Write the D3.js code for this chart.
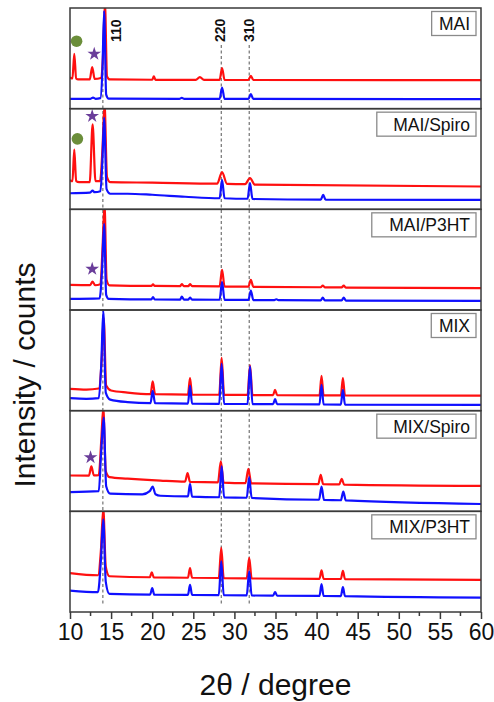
<!DOCTYPE html>
<html>
<head>
<meta charset="utf-8">
<script src="https://cdn.jsdelivr.net/npm/d3@7"></script>
<style>
  html, body { margin: 0; padding: 0; background: #fff; }
  svg { display: block; font-family: Arial, "Liberation Sans", sans-serif; }
</style>
</head>
<body>
<svg id="chart" width="494" height="702"></svg>
<script>
// ---------- data ----------
const xTicks = [10, 15, 20, 25, 30, 35, 40, 45, 50, 55, 60];
const panelNames = ["MAI", "MAI/Spiro", "MAI/P3HT", "MIX", "MIX/Spiro", "MIX/P3HT"];
const refPeaks = [14.0, 28.4, 31.8];
const refLabels = ["110", "220", "310"];

// [2θ, intensity (a.u., panel-relative)]
const redMAI = [[10,31],[10.3,30],[10.52,54.4],[10.75,30],[11,29],[12.4,29],[12.7,41.4],[13.0,29.5],[13.75,30.5],[14.0,50],[14.25,105],[14.5,32],[14.85,29],[20.0,28.7],[20.2,32],[20.4,28.7],[25.3,28.7],[25.8,31.4],[26.3,28.6],[28.2,28.6],[28.5,40.4],[28.8,28.6],[31.7,28.5],[32.0,32.7],[32.3,28.5],[60,28.4]];
const blueMAI = [[10,9.7],[12.5,9.8],[12.8,11],[13.1,9.8],[13.7,10.5],[13.95,40],[14.15,97],[14.4,14],[14.7,10],[23.3,9.7],[23.6,10.7],[23.9,9.7],[28.2,9.7],[28.5,21],[28.8,9.7],[31.7,9.7],[32.0,14.4],[32.3,9.7],[60,9.5]];

const redMAISpiro = [[10,29],[10.3,28],[10.52,59.3],[10.75,28],[11.1,27],[12.4,27],[12.75,84.3],[13.1,28],[13.65,28],[13.95,60],[14.2,105],[14.5,32],[14.9,27],[20,26.5],[27.9,25.5],[28.5,37],[29.1,25.3],[31.3,25],[31.9,31],[32.5,24.5],[60,22.7]];
const blueMAISpiro = [[10,16],[12.4,16.5],[12.75,18.6],[13.0,17],[13.7,18],[13.95,50],[14.15,91],[14.45,20],[14.9,15.5],[17,15.5],[20,14.5],[24,12.5],[28.2,11],[28.5,29.3],[28.8,11],[31.6,10.5],[31.9,26],[32.2,10.3],[40.5,9.6],[40.8,14.3],[41.1,9.6],[60,9.3]];

const redMAIP3HT = [[10,25],[12.45,24.8],[12.75,28.3],[13.05,24.6],[13.7,25.5],[13.95,60],[14.2,105],[14.45,30],[14.8,24.5],[19.9,24],[20.1,25.5],[20.3,24],[23.4,23.8],[23.6,25.7],[23.85,23.8],[24.4,23.8],[24.6,25.7],[24.85,23.7],[28.2,23.5],[28.5,40],[28.8,23.3],[31.7,23.2],[32.0,30],[32.3,23],[40.5,22.6],[40.75,24.3],[41.0,22.5],[43.05,22.4],[43.3,24.3],[43.55,22.3],[60,21.7]];
const blueMAIP3HT = [[10,11],[13.6,11.5],[13.9,40],[14.15,85.7],[14.4,15],[14.7,11],[19.9,10.5],[20.1,12.7],[20.3,10.5],[23.4,10.4],[23.6,13.3],[23.85,10.4],[24.4,10.4],[24.6,12.3],[24.85,10.3],[28.2,10.2],[28.5,27.7],[28.8,10.1],[31.7,10],[32.0,19.3],[32.3,9.9],[34.85,9.8],[35.1,10.7],[35.35,9.8],[40.5,9.6],[40.75,12.3],[41.0,9.5],[43.05,9.5],[43.3,12.3],[43.55,9.4],[60,9]];

const redMIX = [[10,21.7],[12,21],[13.5,22],[13.85,50],[14.1,92],[14.4,25],[15,20],[17,18],[19.8,16.5],[20.06,29],[20.35,16.4],[24.35,16],[24.6,32.4],[24.85,16],[28.15,15.8],[28.45,52.4],[28.75,15.7],[31.6,15.6],[31.9,45],[32.2,15.5],[34.7,15.4],[34.95,20.7],[35.2,15.3],[40.35,15.2],[40.6,34.7],[40.85,15.2],[42.95,15.1],[43.2,32.4],[43.45,15.1],[60,15]];
const blueMIX = [[10,12.4],[12,11.8],[13.5,12.5],[13.8,45],[14.05,99],[14.35,18],[14.9,11],[17,8.5],[19.8,7.5],[20.06,19.7],[20.35,7.4],[24.35,7],[24.6,24.7],[24.85,7],[28.15,6.8],[28.45,46.4],[28.75,6.7],[31.6,6.6],[31.9,44],[32.2,6.5],[34.7,6.4],[34.95,11.4],[35.2,6.4],[40.35,6.2],[40.6,25.7],[40.85,6.2],[42.95,6.1],[43.2,20.7],[43.45,6.1],[60,5.7]];

const redMIXSpiro = [[10,35.6],[12.3,35.5],[12.6,44.6],[12.9,35.8],[13.5,36],[13.8,70],[14.05,103],[14.35,40],[14.8,34],[17,32.5],[21,30.5],[24.0,29.5],[24.3,38],[24.6,29.2],[28.0,28.8],[28.35,49.6],[28.7,28.5],[31.35,28],[31.7,42.3],[32.05,27.8],[40.2,27],[40.5,36.3],[40.8,26.9],[42.75,26.7],[43.05,32.3],[43.35,26.6],[60,25.3]];
const blueMIXSpiro = [[10,19],[13.5,20],[13.8,60],[14.1,93],[14.4,25],[14.9,17.5],[18.8,16.8],[19.7,20],[20.06,24.6],[20.4,17],[21,15.5],[24.35,14.8],[24.6,27.3],[24.85,14.6],[28.15,14],[28.45,44.6],[28.75,13.8],[31.5,13.5],[31.8,34],[32.1,13.3],[40.3,11.5],[40.6,24.6],[40.9,11.3],[42.95,11],[43.25,19.6],[43.55,10.8],[60,7.3]];

const redMIXP3HT = [[10,38.7],[13.4,36.5],[13.75,60],[14.05,103],[14.35,45],[14.8,35.5],[19.7,34.5],[19.95,39.3],[20.2,34.3],[24.35,34],[24.6,43.7],[24.85,34],[28.1,33.8],[28.4,63.7],[28.7,33.6],[31.5,33.4],[31.8,53.7],[32.1,33.3],[40.35,33],[40.6,41.3],[40.85,33],[42.95,32.8],[43.2,41],[43.45,32.7],[60,32]];
const blueMIXP3HT = [[10,21.3],[13.4,19.8],[13.75,50],[14.05,92],[14.35,30],[14.8,18],[19.75,17.3],[20.0,23.7],[20.25,17.2],[24.35,17],[24.6,27],[24.85,17],[28.1,16.8],[28.4,50.3],[28.7,16.7],[31.5,16.5],[31.8,40.3],[32.1,16.4],[34.7,16.2],[34.95,19.7],[35.2,16.2],[40.35,16],[40.6,27.7],[40.85,15.9],[42.95,15.8],[43.2,24.7],[43.45,15.7],[60,14.3]];

const redSeries = [redMAI, redMAISpiro, redMAIP3HT, redMIX, redMIXSpiro, redMIXP3HT];
const blueSeries = [blueMAI, blueMAISpiro, blueMAIP3HT, blueMIX, blueMIXSpiro, blueMIXP3HT];

// impurity markers: panel index, 2θ, intensity
const circleMarks = [[0, 10.8, 67], [1, 10.9, 70]];
const starMarks = [[0, 12.95, 54.4], [1, 12.7, 92.6], [2, 12.7, 40.7], [4, 12.5, 53.6]];

// ---------- layout ----------
const mLeft = 70, mRight = 481, mTop = 8, mBottom = 612;
const nP = panelNames.length;
const pH = (mBottom - mTop) / nP;

const svg = d3.select("#chart");
const x = d3.scaleLinear().domain([10, 60]).range([mLeft, mRight]);
const yPanel = i => d3.scaleLinear().domain([0, 100]).range([mTop + (i + 1) * pH, mTop + i * pH]);

const defs = svg.append("defs");

// dashed reference lines
const refG = svg.append("g");
refPeaks.forEach(p => {
  refG.append("line")
    .attr("x1", x(p)).attr("x2", x(p))
    .attr("y1", 45).attr("y2", 606)
    .attr("stroke", "#555").attr("stroke-width", 1)
    .attr("stroke-dasharray", "3,2.5");
});

// traces
for (let i = 0; i < nP; i++) {
  const y = yPanel(i);
  const clipId = "pc" + i;
  defs.append("clipPath").attr("id", clipId)
    .append("rect").attr("x", mLeft).attr("y", mTop + i * pH).attr("width", mRight - mLeft).attr("height", pH);
  const pg = svg.append("g").attr("clip-path", `url(#${clipId})`);
  const line = d3.line().x(d => x(d[0])).y(d => y(d[1])).curve(d3.curveMonotoneX);
  pg.append("path").datum(redSeries[i]).attr("d", line)
    .attr("fill", "none").attr("stroke", "#ff1010").attr("stroke-width", 2.2).attr("stroke-linejoin", "round");
  pg.append("path").datum(blueSeries[i]).attr("d", line)
    .attr("fill", "none").attr("stroke", "#1010ff").attr("stroke-width", 2.2).attr("stroke-linejoin", "round");
}

// markers
circleMarks.forEach(([pi, cx, cy]) => {
  svg.append("circle").attr("cx", x(cx)).attr("cy", yPanel(pi)(cy)).attr("r", 5.8).attr("fill", "#6b8e3a");
});
starMarks.forEach(([pi, sx, sy]) => {
  svg.append("path").attr("d", d3.symbol(d3.symbolStar, 58)())
    .attr("transform", `translate(${x(sx)},${yPanel(pi)(sy)})`)
    .attr("fill", "#6a3d9a");
});

// panel frames and labels
for (let i = 0; i < nP; i++) {
  const py = mTop + i * pH;
  svg.append("rect").attr("x", mLeft).attr("y", py).attr("width", mRight - mLeft).attr("height", pH)
    .attr("fill", "none").attr("stroke", "#3a3a3a").attr("stroke-width", 1.5);
  const lg = svg.append("g");
  const t = lg.append("text").attr("x", 470).attr("y", py + 22)
    .attr("text-anchor", "end").attr("font-size", 17.5).attr("fill", "#111").text(panelNames[i]);
  const bb = t.node().getBBox();
  const bw = bb.width * 1.2 + 7;
  lg.insert("rect", "text").attr("x", 476 - bw).attr("y", py + 3.5).attr("width", bw).attr("height", 24)
    .attr("fill", "#fff").attr("stroke", "#8a8a8a").attr("stroke-width", 1.3);
}

// peak index labels
const labelOffsets = [18, 4, 4.7];
refPeaks.forEach((p, k) => {
  svg.append("text")
    .attr("transform", `translate(${x(p) + labelOffsets[k]},42) rotate(-90)`)
    .attr("font-size", 14).attr("font-weight", "bold").attr("fill", "#111")
    .text(refLabels[k]);
});

// bottom axis
const axis = d3.axisBottom(x).tickValues(xTicks).tickSize(7).tickPadding(5).tickFormat(d3.format("d"));
const ax = svg.append("g").attr("transform", `translate(0,${mBottom})`).call(axis);
ax.select(".domain").remove();
ax.selectAll(".tick line").attr("stroke", "#3a3a3a").attr("stroke-width", 1.5);
ax.selectAll(".tick text").attr("font-size", 23).attr("fill", "#111")
  .attr("font-family", "Arial, 'Liberation Sans', sans-serif");
const minor = d3.range(12.5, 60, 5);
svg.append("g").selectAll("line").data(minor).join("line")
  .attr("x1", d => x(d)).attr("x2", d => x(d))
  .attr("y1", mBottom).attr("y2", mBottom + 4)
  .attr("stroke", "#3a3a3a").attr("stroke-width", 1.5);

// axis titles
svg.append("text").attr("x", (mLeft + mRight) / 2).attr("y", 695)
  .attr("text-anchor", "middle").attr("font-size", 30).attr("fill", "#111").text("2θ / degree");
svg.append("text").attr("transform", "translate(35,375) rotate(-90)")
  .attr("text-anchor", "middle").attr("font-size", 30).attr("fill", "#111").text("Intensity / counts");
</script>
</body>
</html>
